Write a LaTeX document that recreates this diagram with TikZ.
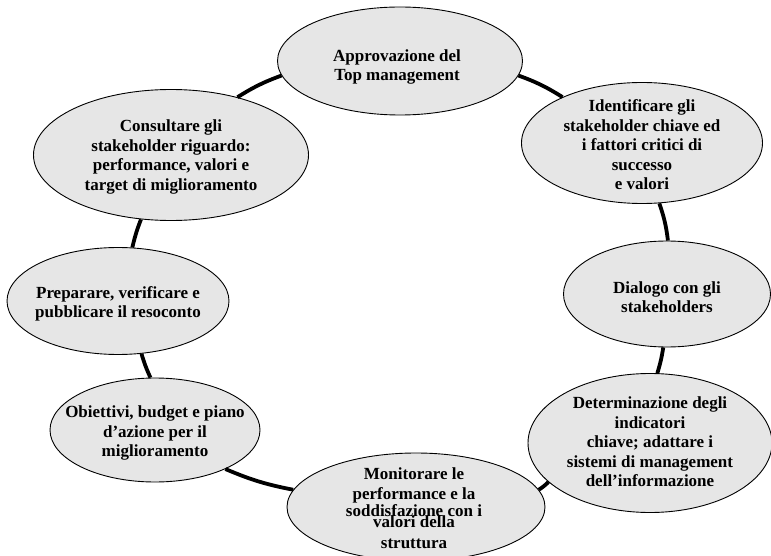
\documentclass[tikz,border=0pt]{standalone}
\usepackage{fontspec}
\setmainfont{Liberation Serif}
\usepackage{tikz}
\usetikzlibrary{shapes.geometric}
\definecolor{ink}{HTML}{000000}
\definecolor{bubblefill}{HTML}{E6E6E6}
\tikzset{
  bubble/.style={ellipse, fill=bubblefill, draw=ink, line width=0.9pt, inner sep=0pt},
  txt/.style={align=center, inner sep=0pt, text=ink, font=\fontsize{17}{19.5}\selectfont\bfseries},
  ring/.style={draw=ink, line width=3.8pt},
}
\begin{document}
\begin{tikzpicture}[x=1pt, y=-1pt]
    \useasboundingbox (0,0) rectangle (771,556);
    % cycle bubbles
    \node[bubble, minimum width=245pt, minimum height=108pt] (a) at (400,61) {};
    \node[bubble, minimum width=241pt, minimum height=121pt] (b) at (642,143) {};
    \node[bubble, minimum width=207pt, minimum height=106pt] (c) at (667,294) {};
    \node[bubble, minimum width=244pt, minimum height=139pt] (d) at (650,443) {};
    \node[bubble, minimum width=258pt, minimum height=108pt] (e) at (416,507) {};
    \node[bubble, minimum width=210pt, minimum height=104pt] (f) at (155,430) {};
    \node[bubble, minimum width=222pt, minimum height=107pt] (g) at (118,301) {};
    \node[bubble, minimum width=275pt, minimum height=131pt] (h) at (171,155) {};
    % texts
    \node[txt] (ta) at (397,67) {Approvazione del\\Top management};
    \node[txt] (tb) at (642,145) {Identificare gli\\stakeholder chiave ed\\i fattori critici di\\successo\\e valori};
    \node[txt] (tc) at (667,297) {Dialogo con gli\\stakeholders};
    \node[txt] (td) at (650,442) {Determinazione degli\\indicatori\\chiave; adattare i\\sistemi di management\\dell’informazione};
    \node[txt] (te) at (414,508) {Monitorare le\\[1pt]performance e la\\[-3pt]soddisfazione con i\\[-8pt]valori della\\[1pt]struttura};
    \node[txt] (tf) at (155,433) {Obiettivi, budget e piano\\d’azione per il\\miglioramento};
    \node[txt] (tg) at (118,304) {Preparare, verificare e\\pubblicare il resoconto};
    \node[txt] (th) at (171,157) {Consultare gli\\stakeholder riguardo:\\performance, valori e\\target di miglioramento};
    % ring
    \draw[ring] (a.-7.5) to[bend left=6] (b.150); \draw[ring] (b.-74) to[bend left=6] (c.89);
    \draw[ring] (c.-94) to[bend left=4] (d.84); \draw[ring] (d.-159) to[bend left=6] (e.8);
    \draw[ring] (e.172) to[bend left=6] (f.-29); \draw[ring] (f.95) to[bend left=4] (g.-66);
    \draw[ring] (g.75) to[bend left=4] (h.-115); \draw[ring] (h.41) to[bend left=6] (a.-173);
  \end{tikzpicture}
\end{document}
